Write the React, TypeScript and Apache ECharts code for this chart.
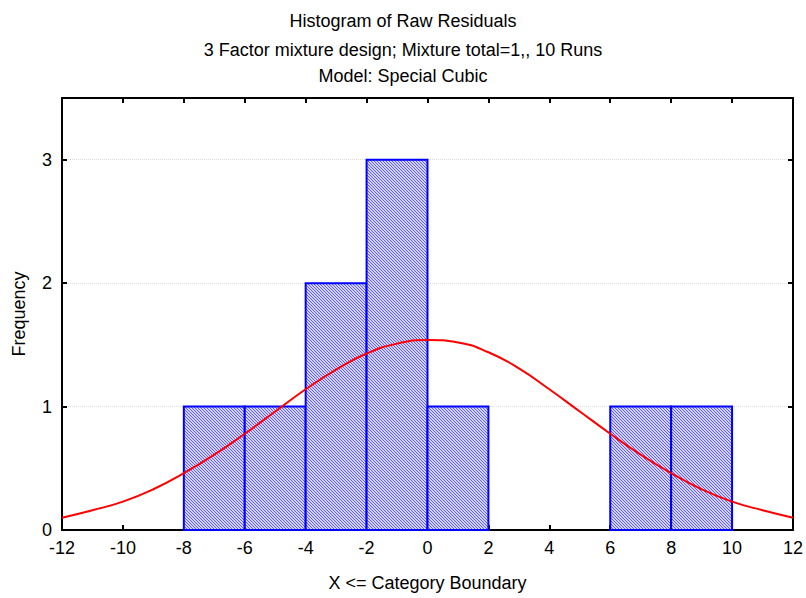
import React, { useEffect, useRef } from "react";
import * as echarts from "echarts";

const binStarts = [-8, -6, -4, -2, 0, 6, 8];
const binEnds = [-6, -4, -2, 0, 2, 8, 10];
const counts = [1, 1, 2, 3, 1, 1, 1];

const curveX = [-12, -11, -10, -9, -8, -7, -6, -5, -4, -3, -2, -1, 0, 1, 2, 3, 4, 5, 6, 7, 8, 9, 10, 11, 12];
const curveY = [0.1, 0.16, 0.23, 0.33, 0.46, 0.61, 0.78, 0.96, 1.14, 1.3, 1.43, 1.51, 1.54, 1.52, 1.44, 1.31, 1.14, 0.96, 0.78, 0.61, 0.46, 0.33, 0.23, 0.16, 0.1];

const titleLines = [
  "Histogram of Raw Residuals",
  "3 Factor mixture design; Mixture total=1,, 10 Runs",
  "Model: Special Cubic",
];

const FONT = "Liberation Sans, Arial, sans-serif";

function makeHatch(): any {
  const n = 3;
  const c = document.createElement("canvas");
  c.width = n;
  c.height = n;
  const ctx = c.getContext("2d")!;
  ctx.fillStyle = "#d4d4ff";
  ctx.fillRect(0, 0, n, n);
  ctx.fillStyle = "#5c5cff";
  for (let i = 0; i < n; i++) {
    ctx.fillRect(i, i, 1, 1);
  }
  return { image: c, repeat: "repeat" };
}

export default function App() {
  const ref = useRef<HTMLDivElement>(null);
  useEffect(() => {
    if (!ref.current) return;
    const chart = echarts.init(ref.current, null, { renderer: "svg" });
    const hatch = makeHatch();
    const binData = binStarts.map((s, i) => [s, binEnds[i], counts[i]]);
    const curveData = curveX.map((x, i) => [x, curveY[i]]);
    const axisLineStyle = { color: "#000", width: 2 };
    chart.setOption({
      animation: false,
      backgroundColor: "#fff",
      title: titleLines.map((t, i) => ({
        text: t,
        left: "center",
        top: [7, 36, 62][i],
        textStyle: { fontFamily: FONT, fontSize: 18, fontWeight: "normal", color: "#000" },
      })),
      grid: { left: 62, right: 12, top: 98, bottom: 68 },
      xAxis: [
        {
          type: "value",
          min: -12,
          max: 12,
          interval: 2,
          name: "X <= Category Boundary",
          nameLocation: "middle",
          nameGap: 44,
          nameTextStyle: { fontFamily: FONT, fontSize: 18, color: "#000" },
          axisLine: { show: true, onZero: false, lineStyle: axisLineStyle },
          axisTick: { show: true, inside: true, length: 5, lineStyle: axisLineStyle },
          axisLabel: { fontFamily: FONT, fontSize: 18, color: "#000", margin: 9 },
          splitLine: { show: false },
        },
        {
          type: "value",
          position: "top",
          min: -12,
          max: 12,
          interval: 2,
          axisLine: { show: true, onZero: false, lineStyle: axisLineStyle },
          axisTick: { show: true, inside: true, length: 5, lineStyle: axisLineStyle },
          axisLabel: { show: false },
          splitLine: { show: false },
        },
      ],
      yAxis: [
        {
          type: "value",
          min: 0,
          max: 3.5,
          interval: 1,
          name: "Frequency",
          nameLocation: "middle",
          nameGap: 34,
          nameTextStyle: { fontFamily: FONT, fontSize: 18, color: "#000" },
          axisLine: { show: true, onZero: false, lineStyle: axisLineStyle },
          axisTick: { show: true, inside: true, length: 5, lineStyle: axisLineStyle },
          axisLabel: {
            fontFamily: FONT,
            fontSize: 18,
            color: "#000",
            margin: 10,
            formatter: (v: number) => (Number.isInteger(v) ? String(v) : ""),
          },
          splitLine: { show: true, lineStyle: { color: "#dcdcdc", type: "dotted", width: 1 } },
        },
        {
          type: "value",
          position: "right",
          min: 0,
          max: 3.5,
          interval: 1,
          axisLine: { show: true, onZero: false, lineStyle: axisLineStyle },
          axisTick: { show: true, inside: true, length: 5, lineStyle: axisLineStyle },
          axisLabel: { show: false },
          splitLine: { show: false },
        },
      ],
      series: [
        {
          type: "custom",
          xAxisIndex: 0,
          yAxisIndex: 0,
          data: binData,
          encode: { x: [0, 1], y: 2 },
          z: 2,
          renderItem: (params: any, api: any) => {
            const x0 = api.value(0);
            const x1 = api.value(1);
            const c = api.value(2);
            const p0 = api.coord([x0, c]);
            const p1 = api.coord([x1, 0]);
            return {
              type: "rect",
              shape: { x: p0[0], y: p0[1], width: p1[0] - p0[0], height: p1[1] - p0[1] },
              style: { fill: hatch, stroke: "#0000ff", lineWidth: 2 },
            };
          },
        },
        {
          type: "line",
          xAxisIndex: 0,
          yAxisIndex: 0,
          data: curveData,
          smooth: true,
          showSymbol: false,
          symbol: "none",
          z: 5,
          lineStyle: { color: "#ff0000", width: 2 },
        },
      ],
    });
    return () => chart.dispose();
  }, []);
  return (
    <div
      ref={ref}
      style={{ position: "absolute", left: 0, top: 0, width: 806, height: 598 }}
    />
  );
}
